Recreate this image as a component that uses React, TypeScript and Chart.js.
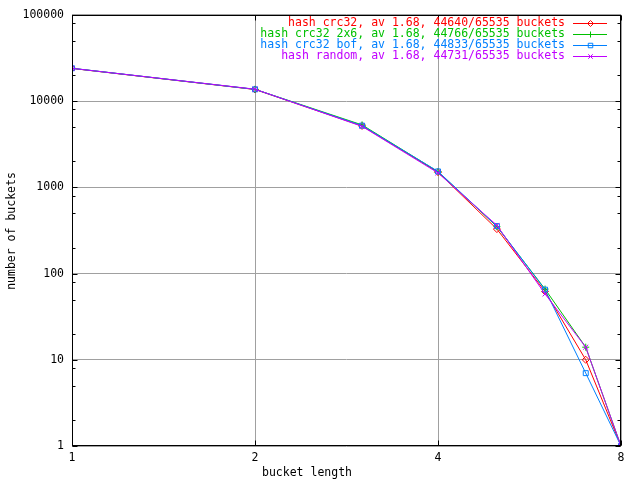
import React, { useEffect, useRef } from "react";
import { Chart, registerables } from "chart.js";

Chart.register(...registerables);

// ---- data ----
const bucketLengths = [1, 2, 3, 4, 5, 6, 7, 8];
const hashCrc32 = [23950, 13650, 5150, 1500, 328, 62, 10, 1];
const hashCrc32x6 = [24000, 13700, 5300, 1520, 350, 66, 14, 1];
const hashCrc32Bof = [24050, 13700, 5200, 1530, 355, 65, 7, 1];
const hashRandom = [24000, 13750, 5100, 1470, 362, 58, 14, 1];

const seriesLabels = [
  "hash crc32, av 1.68, 44640/65535 buckets",
  "hash crc32 2x6, av 1.68, 44766/65535 buckets",
  "hash crc32 bof, av 1.68, 44833/65535 buckets",
  "hash random, av 1.68, 44731/65535 buckets",
];
const seriesValues = [hashCrc32, hashCrc32x6, hashCrc32Bof, hashRandom];
const seriesColors = ["#ff0000", "#00c000", "#0080ff", "#c000ff"];
const seriesPoints = ["rectRot", "cross", "rect", "crossRot"];

const xTickValues = [1, 2, 4, 8];
const yTickValues = [1, 10, 100, 1000, 10000, 100000];
const yMinorFactors = [2, 5, 8];

const xTitle = "bucket length";
const yTitle = "number of buckets";

const FONT = "'DejaVu Sans Mono', 'Liberation Mono', monospace";
const FONT_SIZE = 11.5;

function drawMarker(ctx: CanvasRenderingContext2D, style: string, x: number, y: number, r: number) {
  ctx.beginPath();
  if (style === "rectRot") {
    ctx.moveTo(x, y - r);
    ctx.lineTo(x + r, y);
    ctx.lineTo(x, y + r);
    ctx.lineTo(x - r, y);
    ctx.closePath();
  } else if (style === "cross") {
    ctx.moveTo(x - r, y);
    ctx.lineTo(x + r, y);
    ctx.moveTo(x, y - r);
    ctx.lineTo(x, y + r);
  } else if (style === "rect") {
    ctx.rect(x - r * 0.75, y - r * 0.75, r * 1.5, r * 1.5);
  } else {
    ctx.moveTo(x - r * 0.75, y - r * 0.75);
    ctx.lineTo(x + r * 0.75, y + r * 0.75);
    ctx.moveTo(x + r * 0.75, y - r * 0.75);
    ctx.lineTo(x - r * 0.75, y + r * 0.75);
  }
  ctx.stroke();
}

const framePlugin = {
  id: "gnuplotFrame",
  beforeDraw(chart: any) {
    const ctx = chart.ctx;
    ctx.save();
    ctx.fillStyle = "#ffffff";
    ctx.fillRect(0, 0, chart.width, chart.height);
    ctx.restore();
  },
  afterDatasetsDraw(chart: any) {
    const ctx: CanvasRenderingContext2D = chart.ctx;
    const { left, right, top, bottom } = chart.chartArea;
    const xs = chart.scales.x;
    const ys = chart.scales.y;
    const L = Math.round(left) + 0.5;
    const R = Math.round(right) - 0.5;
    const T = Math.round(top) + 0.5;
    const B = Math.round(bottom) - 0.5;
    ctx.save();
    ctx.strokeStyle = "#000000";
    ctx.lineWidth = 1;
    // border
    ctx.strokeRect(L, T, R - L, B - T);
    // ticks
    ctx.beginPath();
    for (const v of yTickValues) {
      const y = Math.round(ys.getPixelForValue(v)) + 0.5;
      ctx.moveTo(L, y); ctx.lineTo(L + 5, y);
      ctx.moveTo(R, y); ctx.lineTo(R - 5, y);
      if (v < 100000) {
        for (const f of yMinorFactors) {
          const ym = Math.round(ys.getPixelForValue(v * f)) + 0.5;
          ctx.moveTo(L, ym); ctx.lineTo(L + 3, ym);
          ctx.moveTo(R, ym); ctx.lineTo(R - 3, ym);
        }
      }
    }
    for (const v of xTickValues) {
      const x = Math.round(xs.getPixelForValue(v)) + 0.5;
      ctx.moveTo(x, B); ctx.lineTo(x, B - 5);
      ctx.moveTo(x, T); ctx.lineTo(x, T + 5);
    }
    ctx.stroke();

    // legend
    ctx.font = `${FONT_SIZE}px ${FONT}`;
    ctx.textAlign = "right";
    ctx.textBaseline = "middle";
    for (let i = 0; i < seriesLabels.length; i++) {
      const y = 23 + 11 * i;
      ctx.fillStyle = seriesColors[i];
      ctx.fillText(seriesLabels[i], 565, y + 0.5);
      ctx.strokeStyle = seriesColors[i];
      ctx.beginPath();
      ctx.moveTo(573, y + 0.5);
      ctx.lineTo(607, y + 0.5);
      ctx.stroke();
      drawMarker(ctx, seriesPoints[i], 590.5, y + 0.5, 3);
    }

    // axis titles
    ctx.fillStyle = "#000000";
    ctx.textAlign = "center";
    ctx.textBaseline = "middle";
    ctx.fillText(xTitle, 307, 473);
    ctx.save();
    ctx.translate(12, 231);
    ctx.rotate(-Math.PI / 2);
    ctx.fillText(yTitle, 0, 0);
    ctx.restore();
    ctx.restore();
  },
};

export default function App() {
  const canvasRef = useRef<HTMLCanvasElement | null>(null);

  useEffect(() => {
    const canvas = canvasRef.current;
    if (!canvas) return;
    const datasets = seriesLabels.map((label, i) => ({
      label,
      data: bucketLengths.map((x, j) => ({ x, y: seriesValues[i][j] })),
      borderColor: seriesColors[i],
      backgroundColor: "transparent",
      pointBackgroundColor: "transparent",
      pointBorderColor: seriesColors[i],
      pointStyle: seriesPoints[i] as any,
      pointRadius: 3.5,
      pointBorderWidth: 1,
      borderWidth: 1,
      tension: 0,
      order: seriesLabels.length - i,
    }));

    const chart = new Chart(canvas, {
      type: "line",
      data: { datasets },
      plugins: [framePlugin],
      options: {
        animation: false,
        responsive: false,
        maintainAspectRatio: false,
        devicePixelRatio: 1,
        layout: { padding: { top: 14, right: 19, left: 0, bottom: 0 } },
        plugins: {
          legend: { display: false },
          tooltip: { enabled: false },
          title: { display: false },
        },
        scales: {
          x: {
            type: "logarithmic",
            min: 1,
            max: 8,
            afterBuildTicks: (scale: any) => {
              scale.ticks = xTickValues.map((v) => ({ value: v }));
            },
            afterFit: (scale: any) => {
              scale.height = 34;
            },
            ticks: {
              callback: (v: any) => String(v),
              color: "#000000",
              font: { family: FONT, size: FONT_SIZE },
              padding: 5,
              maxRotation: 0,
              autoSkip: false,
            },
            grid: { color: "#a0a0a0", lineWidth: 1, drawTicks: false },
            border: { display: false },
          },
          y: {
            type: "logarithmic",
            min: 1,
            max: 100000,
            afterBuildTicks: (scale: any) => {
              scale.ticks = yTickValues.map((v) => ({ value: v }));
            },
            afterFit: (scale: any) => {
              scale.width = 72;
            },
            ticks: {
              callback: (v: any) => String(v),
              color: "#000000",
              font: { family: FONT, size: FONT_SIZE },
              padding: 8,
              autoSkip: false,
            },
            grid: { color: "#a0a0a0", lineWidth: 1, drawTicks: false },
            border: { display: false },
          },
        },
      } as any,
    });
    return () => chart.destroy();
  }, []);

  return (
    <div style={{ position: "fixed", left: 0, top: 0, width: 640, height: 480, background: "#fff" }}>
      <canvas ref={canvasRef} width={640} height={480} style={{ display: "block", width: 640, height: 480 }} />
    </div>
  );
}
